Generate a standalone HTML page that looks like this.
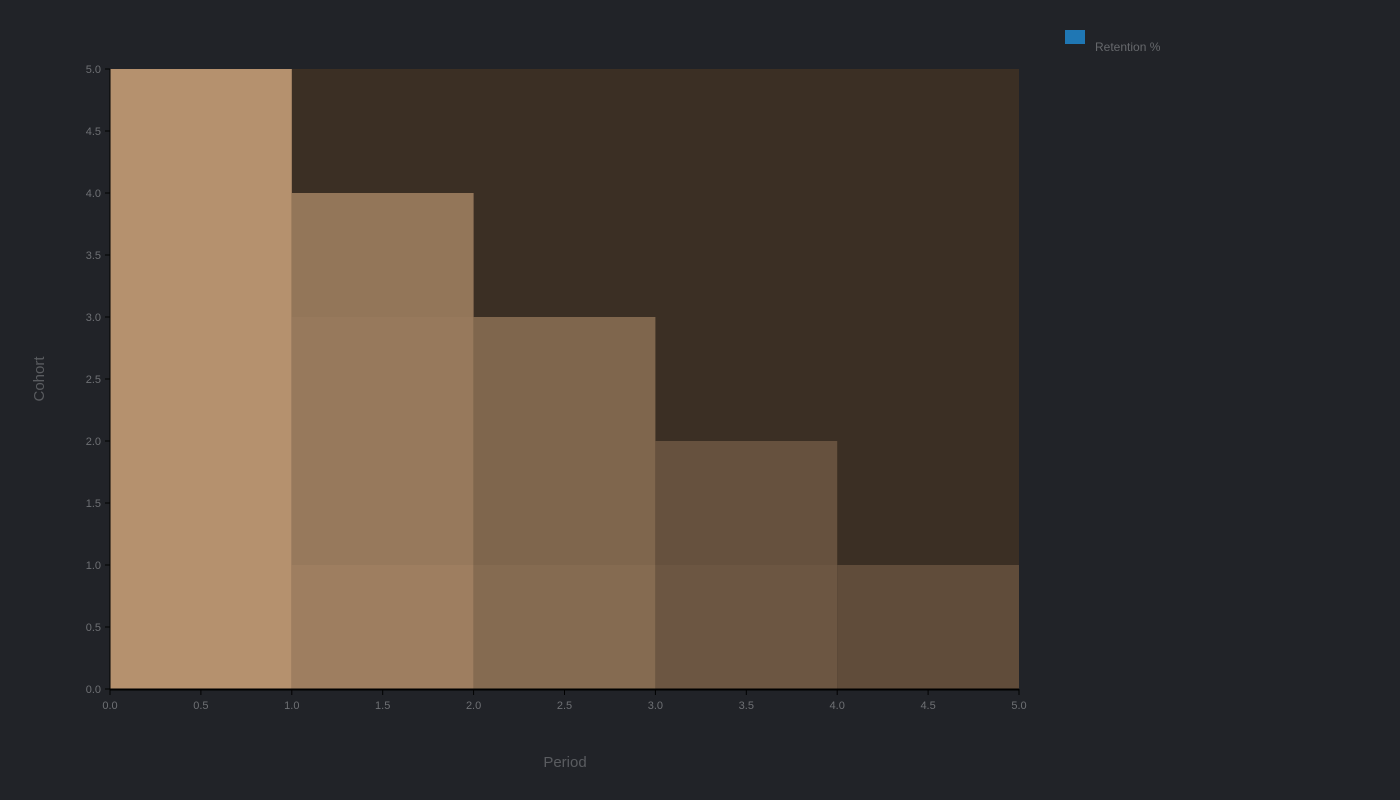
<!DOCTYPE html>
<html><head><meta charset="utf-8"><style>
body{margin:0;background:#212328;}
svg{display:block;font-family:"Liberation Sans",sans-serif;}
</style></head><body>
<svg id="chart" width="1400" height="800">
<rect width="1400" height="800" fill="#212328"/>
<g id="plot"></g>
<g id="axes"></g>
<text x="565" y="767" text-anchor="middle" font-size="15" fill="#5a5c60">Period</text>
<text x="44" y="379" text-anchor="middle" font-size="15" fill="#5a5c60" transform="rotate(-90 44 379)">Cohort</text>
<rect x="1065" y="30" width="20" height="14" fill="#1f77b4"/>
<text x="1095" y="51" font-size="12" fill="#66686c">Retention %</text>
</svg>
<script>
const cohorts = [0, 1, 2, 3, 4];
const periods = [0, 1, 2, 3, 4];
const retention = [
  [100, 81, 61, 40, 30],
  [100, 75, 56, 35],
  [100, 75, 56],
  [100, 72],
  [100]
];
const xTicks = ["0.0","0.5","1.0","1.5","2.0","2.5","3.0","3.5","4.0","4.5","5.0"];
const yTicks = ["0.0","0.5","1.0","1.5","2.0","2.5","3.0","3.5","4.0","4.5","5.0"];

const X0=110, X1=1019, Y0=689, Y1=69, DMAX=5;
const sx = v => X0 + (X1-X0)*v/DMAX;
const sy = v => Y0 - (Y0-Y1)*v/DMAX;
const NS="http://www.w3.org/2000/svg";
const bg=[59,47,36], full=[181,145,110];
function col(v){const t=v/100;return "rgb("+bg.map((b,i)=>Math.round(b+(full[i]-b)*t)).join(",")+")";}

const plot=document.getElementById("plot");
const bgr=document.createElementNS(NS,"rect");
bgr.setAttribute("x",X0);bgr.setAttribute("y",Y1);bgr.setAttribute("width",X1-X0);bgr.setAttribute("height",Y0-Y1);
bgr.setAttribute("fill","rgb(59,47,36)");


plot.appendChild(bgr);
retention.forEach((row,ci)=>{
  row.forEach((v,pi)=>{
    const c=cohorts[ci], p=periods[pi];
    const r=document.createElementNS(NS,"rect");
    r.setAttribute("x",sx(p));r.setAttribute("y",sy(c+1));
    r.setAttribute("width",sx(p+1)-sx(p));r.setAttribute("height",sy(c)-sy(c+1));
    r.setAttribute("fill",col(v));
    
    
    plot.appendChild(r);
  });
});

const axes=document.getElementById("axes");
function line(x1,y1,x2,y2,w){const l=document.createElementNS(NS,"line");l.setAttribute("x1",x1);l.setAttribute("y1",y1);l.setAttribute("x2",x2);l.setAttribute("y2",y2);l.setAttribute("stroke","#000");l.setAttribute("stroke-width",w);return l;}
function txt(x,y,s,anchor){const t=document.createElementNS(NS,"text");t.setAttribute("x",x);t.setAttribute("y",y);t.setAttribute("font-size","11");t.setAttribute("fill","#6e7074");t.setAttribute("text-anchor",anchor);t.textContent=s;return t;}
const yl=line(X0,Y1,X0,Y0,1);


axes.appendChild(yl);
const xl=line(X0,Y0+0.5,X1,Y0+0.5,2);


axes.appendChild(xl);
xTicks.forEach(s=>{
  const x=sx(parseFloat(s));
  const tk=line(x,Y0,x,Y0+6,1);
  
  
  axes.appendChild(tk);
  const t=txt(x,Y0+20,s,"middle");
  
  
  axes.appendChild(t);
});
yTicks.forEach(s=>{
  const y=sy(parseFloat(s));
  const tk=line(X0-5,y,X0,y,1);
  
  
  axes.appendChild(tk);
  const t=txt(X0-9,y+4,s,"end");
  
  
  axes.appendChild(t);
});
</script>
</body></html>
